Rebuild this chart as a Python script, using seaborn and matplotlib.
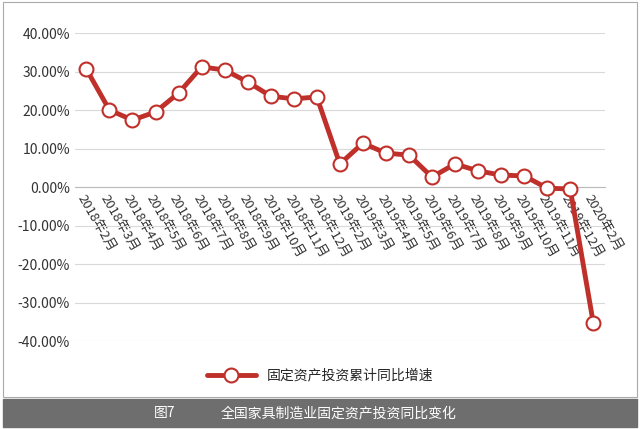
import matplotlib
matplotlib.use("Agg")
import matplotlib.pyplot as plt
import seaborn as sns
import pandas as pd
from matplotlib.patches import Rectangle

sns.set_style("white")
plt.rcParams['font.family'] = ['Noto Sans CJK SC', 'DejaVu Sans']

months = ["2018年2月","2018年3月","2018年4月","2018年5月","2018年6月","2018年7月","2018年8月",
          "2018年9月","2018年10月","2018年11月","2018年12月","2019年2月","2019年3月","2019年4月",
          "2019年5月","2019年6月","2019年7月","2019年8月","2019年9月","2019年10月","2019年11月",
          "2019年12月","2020年2月"]
values = [30.6, 20.0, 17.4, 19.5, 24.4, 31.2, 30.4, 27.3, 23.6, 22.9, 23.4, 6.0, 11.4, 8.8,
          8.3, 2.6, 6.0, 4.2, 3.1, 2.9, -0.3, -0.5, -35.3]
series = "固定资产投资累计同比增速"
df = pd.DataFrame({"x": range(len(months)), "v": values})

fig = plt.figure(figsize=(6.4, 4.29), dpi=100)
ax = fig.add_axes([0.117, 0.205, 0.828, 0.718])
ax.spines['bottom'].set_position(('data', 0))
red = "#c0302b"
sns.lineplot(data=df, x="x", y="v", ax=ax, color=red, lw=3.5, marker="o", markersize=10,
             markerfacecolor="white", markeredgecolor=red, markeredgewidth=1.5, label=series,
             zorder=5)
ax.set_ylim(-40, 40)
ax.set_xlim(-0.5, len(months) - 0.5)
ax.set_yticks(range(-40, 41, 10))
ax.set_yticklabels([f"{t:.2f}%" for t in range(-40, 41, 10)], fontsize=10, color="#333")
ax.yaxis.grid(True, color="#d9d9d9", lw=0.8)
ax.set_xticks(range(len(months)))
ax.set_xticklabels(months, rotation=-60, ha="left", rotation_mode="anchor", fontsize=9.5, color="#333")
ax.spines['bottom'].set_color("#bbbbbb")
for s in ['top', 'right', 'left']:
    ax.spines[s].set_visible(False)
ax.tick_params(axis='x', length=0, pad=4)
ax.tick_params(axis='y', length=0)
ax.set_xlabel("")
ax.set_ylabel("")
ax.legend(loc="center", bbox_to_anchor=(0.5, 0.125), bbox_transform=fig.transFigure,
          frameon=False, fontsize=10, handlelength=3.5)

fig.patches.append(Rectangle((0.005, 0.075), 0.99, 0.92, transform=fig.transFigure,
                             fill=False, edgecolor="#aaaaaa", lw=0.8))
fig.patches.append(Rectangle((0.005, 0.005), 0.99, 0.065, transform=fig.transFigure,
                             color="#6e6e6e"))
fig.text(0.24, 0.037, "图7", color="white", fontsize=10, va="center")
fig.text(0.345, 0.037, "全国家具制造业固定资产投资同比变化", color="white", fontsize=10, va="center")
fig.savefig("out.png", dpi=100)
